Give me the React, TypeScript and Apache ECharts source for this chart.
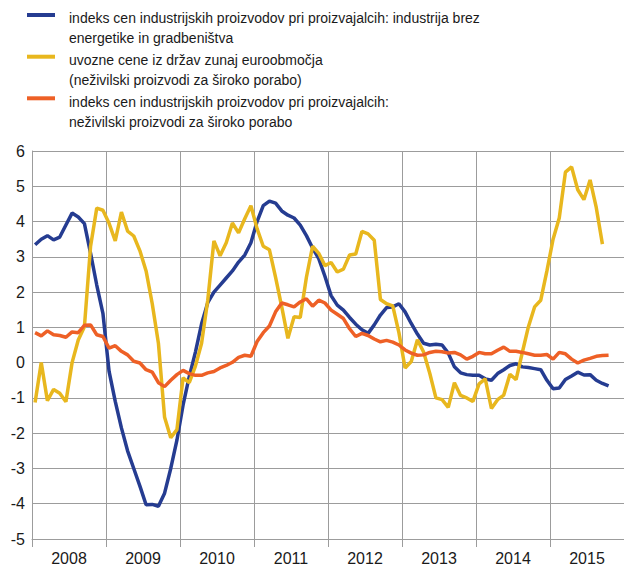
import React, { useEffect, useRef } from 'react';
import * as echarts from 'echarts';

const years = ['2008', '2009', '2010', '2011', '2012', '2013', '2014', '2015'];
const months = years.flatMap((y) => Array.from({ length: 12 }, (_, m) => `${y}-${m + 1}`));

const legendLines = [
  ['indeks cen industrijskih proizvodov pri proizvajalcih: industrija brez', 'energetike in gradbeništva'],
  ['uvozne cene iz držav zunaj euroobmočja', '(neživilski proizvodi za široko porabo)'],
  ['indeks cen industrijskih proizvodov pri proizvajalcih:', 'neživilski proizvodi za široko porabo'],
];

// Jan 2008 – Oct 2015
const ppiIndustry = [
  3.34, 3.5, 3.6, 3.48, 3.56, 3.9, 4.24, 4.13, 3.94, 3.1, 2.2, 1.4,
  -0.25, -1.1, -1.85, -2.5, -3.0, -3.5, -4.03, -4.02, -4.07, -3.7, -3.0, -2.2,
  -1.2, -0.4, 0.3, 1.1, 1.7, 2.0, 2.2, 2.4, 2.6, 2.85, 3.05, 3.4,
  4.0, 4.45, 4.58, 4.52, 4.3, 4.18, 4.1, 3.9, 3.6, 3.25, 2.95, 2.45,
  1.9, 1.63, 1.49, 1.28, 1.09, 0.93, 0.83, 1.07, 1.35, 1.56, 1.58, 1.67,
  1.44, 1.11, 0.81, 0.55, 0.5, 0.52, 0.5, 0.27, -0.12, -0.29, -0.34, -0.36,
  -0.36, -0.46, -0.5, -0.31, -0.2, -0.08, -0.03, -0.12, -0.14, -0.17, -0.2, -0.5,
  -0.74, -0.72, -0.48, -0.38, -0.27, -0.35, -0.34, -0.5, -0.59, -0.66,
];

// Jan 2008 – Sep 2015
const importPrices = [
  -1.13, 0.0, -1.08, -0.76, -0.87, -1.11, 0.0, 0.64, 1.02, 3.3, 4.38, 4.32,
  3.95, 3.45, 4.27, 3.73, 3.59, 3.17, 2.6, 1.67, 0.55, -1.55, -2.13, -1.9,
  -0.43, -0.57, -0.1, 0.55, 1.77, 3.45, 3.03, 3.4, 3.96, 3.68, 4.08, 4.45,
  3.8, 3.3, 3.2, 2.42, 1.58, 0.69, 1.3, 1.28, 2.42, 3.3, 3.1, 2.75,
  2.84, 2.57, 2.65, 3.05, 3.08, 3.72, 3.65, 3.47, 1.79, 1.67, 1.61, 0.85,
  -0.15, 0.03, 0.65, 0.3, -0.3, -1.0, -1.05, -1.27, -0.57, -0.93, -1.0, -1.1,
  -0.6, -0.46, -1.3, -1.05, -0.92, -0.33, -0.48, 0.28, 1.02, 1.58, 1.77, 2.6,
  3.5, 4.1, 5.4, 5.55, 4.9, 4.62, 5.18, 4.4, 3.36,
];

// Jan 2008 – Oct 2015
const ppiConsumer = [
  0.85, 0.76, 0.9, 0.79, 0.77, 0.72, 0.87, 0.85, 1.06, 1.07, 0.79, 0.74,
  0.41, 0.48, 0.32, 0.22, 0.04, -0.01, -0.2, -0.27, -0.57, -0.68, -0.5, -0.34,
  -0.22, -0.31, -0.36, -0.36, -0.29, -0.25, -0.15, -0.08, 0.01, 0.15, 0.21, 0.18,
  0.6, 0.85, 1.04, 1.44, 1.69, 1.64, 1.58, 1.72, 1.81, 1.6, 1.77, 1.69,
  1.49, 1.37, 1.25, 0.96, 0.74, 0.83, 0.77, 0.67, 0.59, 0.63, 0.58, 0.5,
  0.36, 0.27, 0.21, 0.22, 0.29, 0.32, 0.31, 0.27, 0.29, 0.22, 0.1, 0.18,
  0.29, 0.25, 0.25, 0.35, 0.44, 0.32, 0.32, 0.29, 0.25, 0.21, 0.21, 0.23,
  0.1, 0.29, 0.25, 0.1, -0.01, 0.07, 0.12, 0.18, 0.2, 0.21,
];

const colors = ['#253C91', '#E8B71E', '#EE6026'];
const seriesData = [ppiIndustry, importPrices, ppiConsumer];

const FONT = '"Liberation Sans", Arial, sans-serif';
const GRID_COLOR = '#9c9c9c';
const TEXT_COLOR = '#1a1a1a';

export default function App() {
  const ref = useRef<HTMLDivElement>(null);
  useEffect(() => {
    document.body.style.margin = '0';
    const chart = echarts.init(ref.current!, undefined, { renderer: 'svg' });

    const graphic: any[] = [];
    const markerY = [15, 56.7, 98.3];
    const textY = [[18.3, 38.3], [60, 80], [101.7, 121.7]];
    legendLines.forEach((lines, i) => {
      graphic.push({
        type: 'line',
        shape: { x1: 27, y1: markerY[i], x2: 55, y2: markerY[i] },
        style: { stroke: colors[i], lineWidth: 4 },
      });
      lines.forEach((t, j) => {
        graphic.push({
          type: 'text',
          x: 69,
          y: textY[i][j],
          style: {
            text: t,
            fill: TEXT_COLOR,
            font: `14px ${FONT}`,
            verticalAlign: 'middle',
            align: 'left',
          },
        });
      });
    });

    chart.setOption({
      animation: false,
      textStyle: { fontFamily: FONT },
      grid: { left: 32, top: 151, width: 597, height: 391 },
      xAxis: [
        {
          type: 'category',
          data: months,
          boundaryGap: true,
          show: false,
          position: 'top',
        },
        {
          type: 'category',
          data: years,
          boundaryGap: true,
          position: 'bottom',
          axisLine: { show: true, lineStyle: { color: GRID_COLOR, width: 1 } },
          axisTick: { show: true, length: 8, interval: 0, lineStyle: { color: GRID_COLOR } },
          splitLine: { show: true, interval: 0, lineStyle: { color: GRID_COLOR, width: 1 } },
          axisLabel: { color: TEXT_COLOR, fontSize: 16, margin: 11, interval: 0, fontFamily: FONT },
        },
      ],
      yAxis: {
        type: 'value',
        min: -5,
        max: 6,
        interval: 1,
        axisLine: { show: true, lineStyle: { color: GRID_COLOR, width: 1 } },
        axisTick: { show: false },
        splitLine: { show: true, lineStyle: { color: GRID_COLOR, width: 1 } },
        axisLabel: { color: TEXT_COLOR, fontSize: 16, margin: 7, fontFamily: FONT },
      },
      graphic,
      series: seriesData.map((d, i) => ({
        type: 'line',
        xAxisIndex: 0,
        data: d,
        showSymbol: false,
        symbol: 'none',
        lineStyle: { color: colors[i], width: 3.5 },
        itemStyle: { color: colors[i] },
        z: 2 + i,
      })),
    });
    return () => chart.dispose();
  }, []);
  return <div ref={ref} style={{ width: 624, height: 566 }} />;
}
